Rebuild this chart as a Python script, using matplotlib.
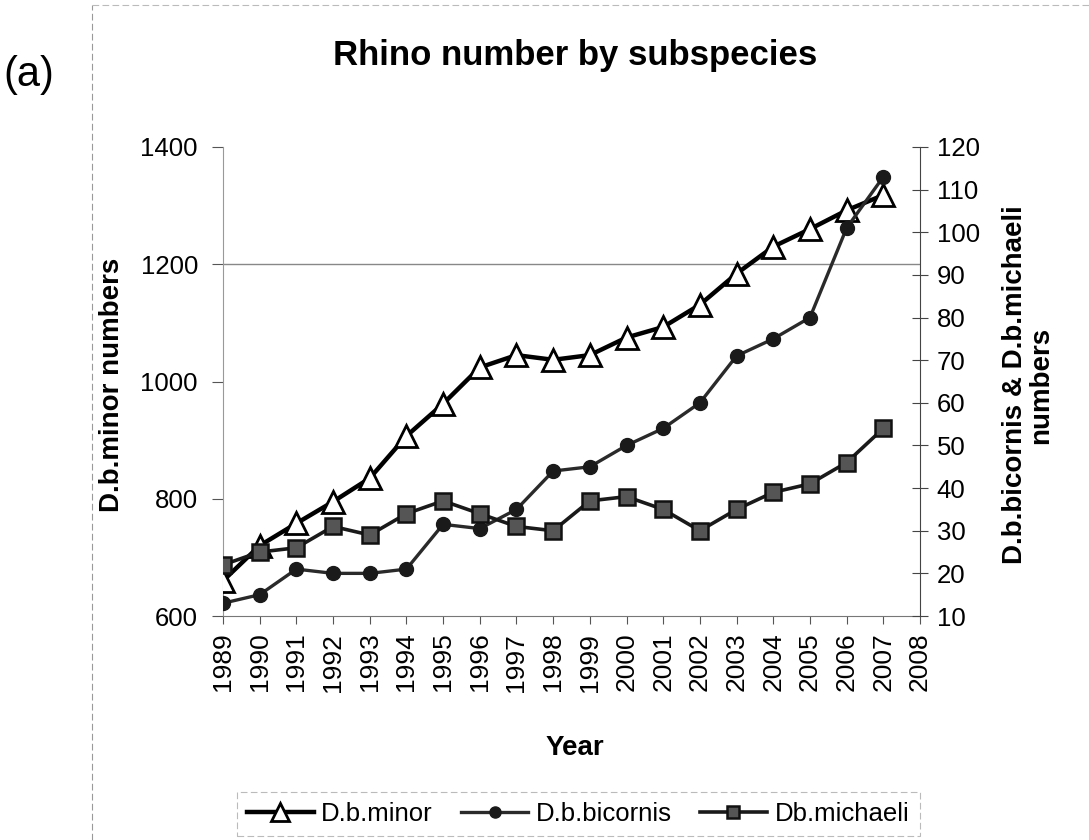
import matplotlib
matplotlib.use("Agg")
import matplotlib.pyplot as plt
from matplotlib.lines import Line2D

plt.rcParams['font.family'] = ['Liberation Sans', 'DejaVu Sans']

years = list(range(1989, 2008))
year_ticks = list(range(1989, 2009))
minor = [660, 720, 758, 795, 835, 907, 962, 1024, 1045, 1037, 1045, 1075, 1093, 1131, 1184, 1230, 1260, 1292, 1318]
bicornis = [13, 15, 21, 20, 20, 21, 31.5, 30.5, 35, 44, 45, 50, 54, 60, 71, 75, 80, 101, 113]
michaeli = [22, 25, 26, 31, 29, 34, 37, 34, 31, 30, 37, 38, 35, 30, 35, 39, 41, 46, 54]
left_ticks = [600, 800, 1000, 1200, 1400]
right_ticks = list(range(10, 121, 10))

W, H = 1089, 840
fig = plt.figure(figsize=(W / 100, H / 100), dpi=100)

x0, x1 = 223, 920
y0, y1 = 147, 616
ax = fig.add_axes([x0 / W, 1 - y1 / H, (x1 - x0) / W, (y1 - y0) / H])
ax2 = ax.twinx()

# chart-area border (faint)
fig.add_artist(Line2D([92 / W, 92 / W], [0, 1 - 5 / H], transform=fig.transFigure,
                      color='#999999', lw=0.8, ls=(0, (6, 3))))
fig.add_artist(Line2D([92 / W, 1], [1 - 5 / H, 1 - 5 / H], transform=fig.transFigure,
                      color='#bbbbbb', lw=0.8, ls=(0, (6, 3))))

ax.set_xlim(1989, 2008)
ax.set_ylim(600, 1400)
ax2.set_ylim(10, 120)

ax.axhline(1200, color='#888888', lw=1.0, zorder=0)

ax.plot(years, minor, color='black', lw=3.2, marker='^', markersize=16,
        markerfacecolor='white', markeredgecolor='black', markeredgewidth=2,
        label='D.b.minor', zorder=3)
ax2.plot(years, bicornis, color='#2a2a2a', lw=2.4, marker='o', markersize=10,
         markerfacecolor='#1a1a1a', markeredgecolor='#1a1a1a',
         label='D.b.bicornis', zorder=3)
ax2.plot(years, michaeli, color='#1a1a1a', lw=2.6, marker='s', markersize=11,
         markerfacecolor='#555555', markeredgecolor='#111111', markeredgewidth=1.8,
         label='Db.michaeli', zorder=4)

for a in (ax, ax2):
    a.spines['top'].set_visible(False)
ax.spines['left'].set_color('#999999')
ax.spines['bottom'].set_color('#777777')
ax.spines['right'].set_visible(False)
ax2.spines['left'].set_visible(False)
ax2.spines['bottom'].set_visible(False)
ax2.spines['right'].set_color('#444444')

ax.set_xticks(year_ticks)
ax.set_xticklabels([str(y) for y in year_ticks], rotation=90, fontsize=19)
ax.tick_params(axis='x', direction='out', length=6, color='#555555', pad=6)
ax.set_yticks(left_ticks)
ax.set_yticklabels([str(v) for v in left_ticks], fontsize=18.5)
ax.tick_params(axis='y', direction='out', length=8, color='#555555', pad=10)
ax2.set_yticks(right_ticks)
ax2.set_yticklabels([str(v) for v in right_ticks], fontsize=18.5)
ax2.tick_params(axis='y', direction='inout', length=12, color='#444444', pad=6)

ax.set_ylabel('D.b.minor numbers', fontsize=20, fontweight='bold')
ax.yaxis.set_label_coords(-0.1406, 0.4925)
ax2.set_ylabel('D.b.bicornis & D.b.michaeli\nnumbers', fontsize=20, fontweight='bold',
               rotation=90, linespacing=1.0)
ax2.yaxis.set_label_coords(1.1176, 0.4925)
ax.set_xlabel('Year', fontsize=20, fontweight='bold')
ax.xaxis.set_label_coords(0.505, -0.2537)

fig.text(575 / W, 1 - 56 / H, 'Rhino number by subspecies', fontsize=25, fontweight='bold',
         ha='center', va='center')
fig.text(3 / W, 1 - 75 / H, '(a)', fontsize=30, ha='left', va='center')

h1, l1 = ax.get_legend_handles_labels()
h2, l2 = ax2.get_legend_handles_labels()
leg = fig.legend(h1 + h2, l1 + l2, loc='center', bbox_to_anchor=(578 / W, 1 - 814 / H),
                 ncol=3, fontsize=18.5, frameon=True, fancybox=False, handlelength=2.6,
                 columnspacing=1.1, handletextpad=0.3, borderpad=0.4, markerscale=0.8)
leg.get_frame().set_edgecolor('#aaaaaa')
leg.get_frame().set_linestyle((0, (6, 3)))
leg.get_frame().set_linewidth(0.8)

fig.savefig('out.png', dpi=100)
